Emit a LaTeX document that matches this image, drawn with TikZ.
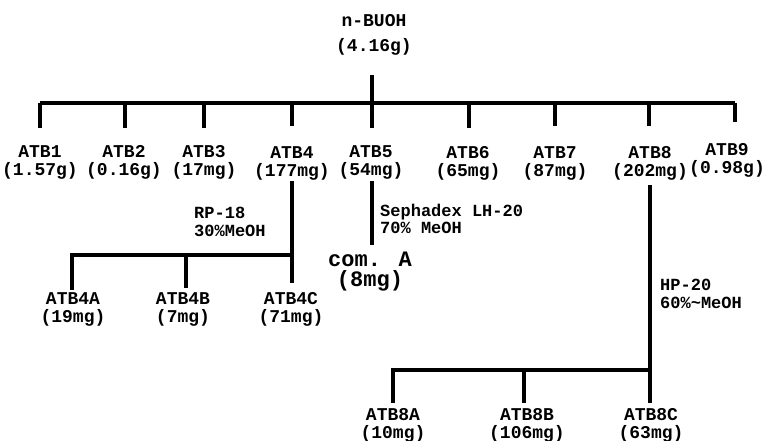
\documentclass[tikz,border=0pt]{standalone}
\usepackage{fontspec}
\setmainfont{Liberation Mono}
\begin{document}
\begin{tikzpicture}[x=1pt,y=-1pt,
  ln/.style={line width=3.2pt, line cap=butt},
  lab/.style={font=\fontsize{18}{18}\selectfont\bfseries, align=center, inner sep=0pt},
  big/.style={font=\fontsize{22}{20}\selectfont\bfseries, align=center, inner sep=0pt},
  note/.style={font=\fontsize{17}{17.5}\selectfont\bfseries, align=left, anchor=west, inner sep=0pt}]
\useasboundingbox (0,0) rectangle (766,441);
% root
\node[lab] (root) at (374,35) {n-BUOH\\[7pt](4.16g)};
\coordinate (s0) at (372,75);
\coordinate (j0) at (372,103);
\coordinate (b1) at (40,103);
\coordinate (b9) at (735,103);
\draw[ln] (s0) -- (j0);
\draw[ln] (b1) -- (b9);
% first level
\node[lab] (atb1) at (40,162) {ATB1\\(1.57g)};
\node[lab] (atb2) at (124,162) {ATB2\\(0.16g)};
\node[lab] (atb3) at (204,162) {ATB3\\(17mg)};
\node[lab] (atb4) at (292,163) {ATB4\\(177mg)};
\node[lab] (atb5) at (371,162) {ATB5\\(54mg)};
\node[lab] (atb6) at (468,163) {ATB6\\(65mg)};
\node[lab] (atb7) at (555,163) {ATB7\\(87mg)};
\node[lab] (atb8) at (650,163) {ATB8\\(202mg)};
\node[lab] (atb9) at (727,160) {ATB9\\(0.98g)};
\foreach \i/\x/\e in {1/40/128,2/125/128,3/204/128,4/292/126,5/372/128,6/469/128,7/555/126,8/649/126,9/735/122}{
  \coordinate (d\i) at (\x,103);
  \coordinate (e\i) at (\x,\e);
  \draw[ln] (d\i) -- (e\i);
}
% ATB4 branch
\coordinate (a4t) at (292,181);
\coordinate (a4j) at (292,255);
\coordinate (a4e) at (292,283);
\coordinate (a4l) at (72,255);
\coordinate (a4m) at (186,255);
\coordinate (a4le) at (72,290);
\coordinate (a4me) at (186,288);
\draw[ln] (a4t) -- (a4e);
\draw[ln] (a4j) -- (a4l) -- (a4le);
\draw[ln] (a4m) -- (a4me);
\node[note] (rp) at (194,222) {RP-18\\30\%MeOH};
\node[lab] (atb4a) at (73,309) {ATB4A\\(19mg)};
\node[lab] (atb4b) at (183,309) {ATB4B\\(7mg)};
\node[lab] (atb4c) at (291,309) {ATB4C\\(71mg)};
% ATB5 branch
\coordinate (a5t) at (372,181);
\coordinate (a5e) at (372,245);
\draw[ln] (a5t) -- (a5e);
\node[note] (seph) at (380,219) {Sephadex LH-20\\70\% MeOH};
\node[big] (comA) at (370,272) {com. A\\(8mg)};
% ATB8 branch
\coordinate (a8t) at (650,185);
\coordinate (a8j) at (650,370);
\coordinate (a8e) at (650,403);
\coordinate (a8l) at (393,370);
\coordinate (a8m) at (524,370);
\coordinate (a8le) at (393,403);
\coordinate (a8me) at (524,403);
\draw[ln] (a8t) -- (a8e);
\draw[ln] (a8j) -- (a8l) -- (a8le);
\draw[ln] (a8m) -- (a8me);
\node[note] (hp) at (660,294) {HP-20\\60\%\textasciitilde MeOH};
\node[lab] (atb8a) at (393,425) {ATB8A\\(10mg)};
\node[lab] (atb8b) at (527,425) {ATB8B\\(106mg)};
\node[lab] (atb8c) at (651,425) {ATB8C\\(63mg)};
\end{tikzpicture}
\end{document}
